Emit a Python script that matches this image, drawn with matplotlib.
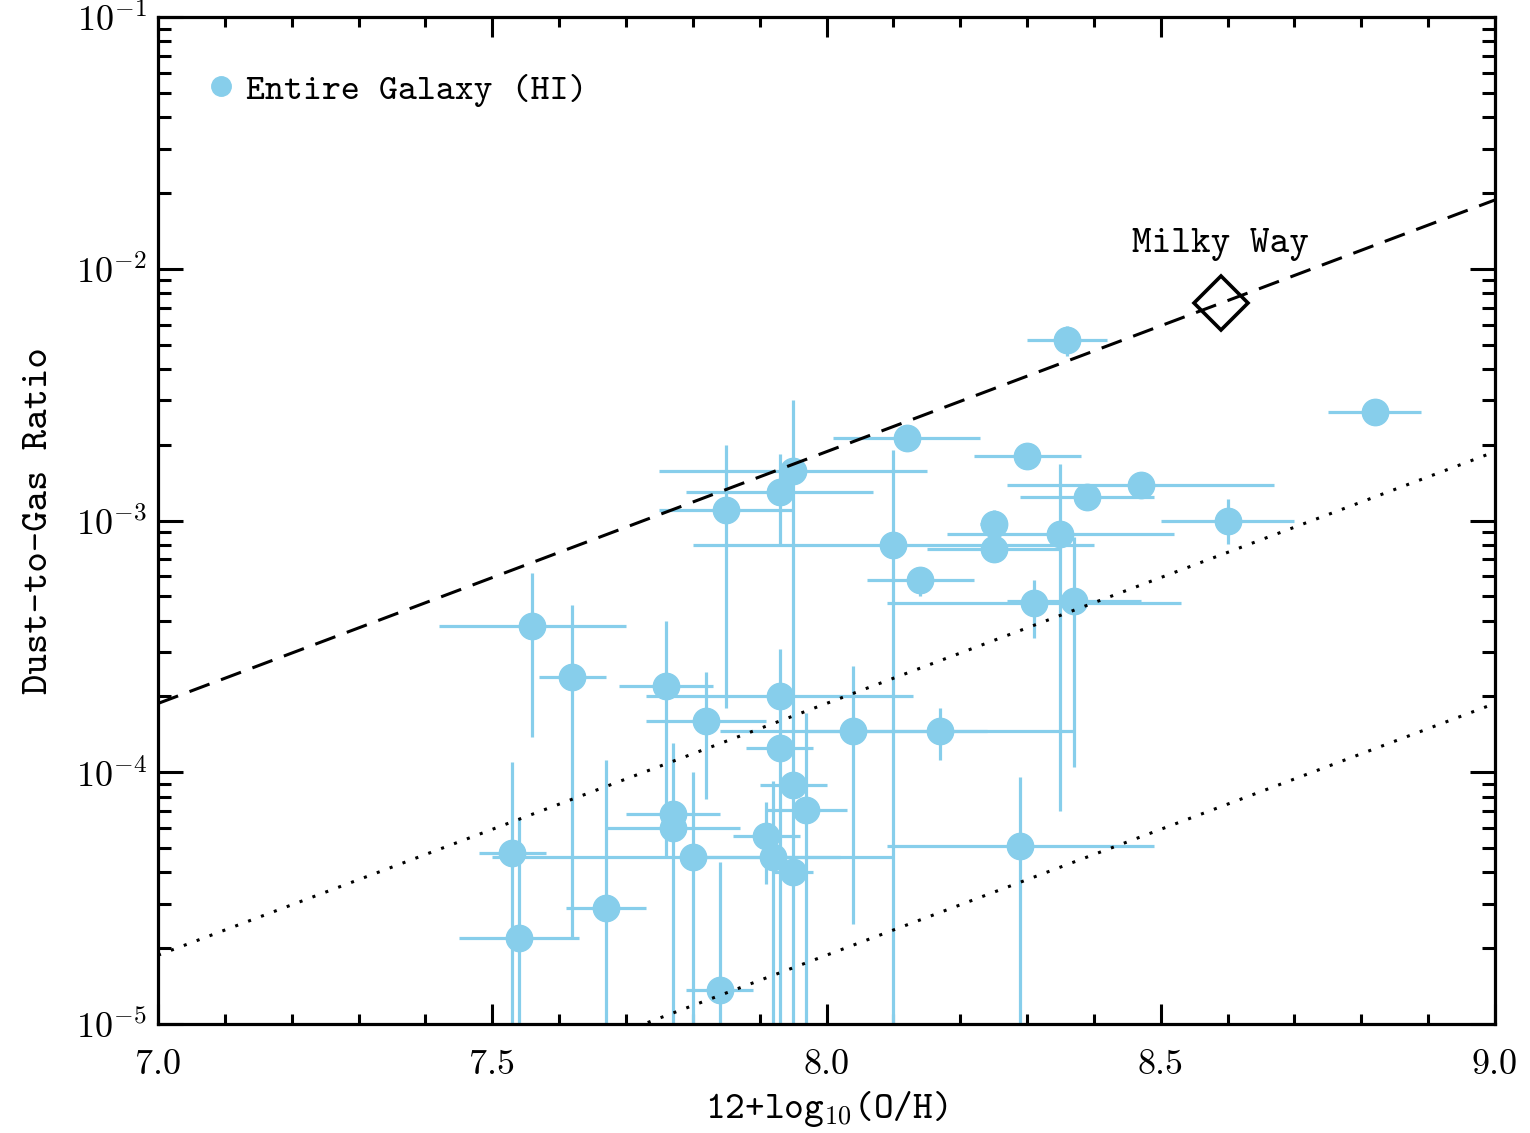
import matplotlib
matplotlib.use("Agg")
import matplotlib.pyplot as plt
import numpy as np
from matplotlib.lines import Line2D
from matplotlib.ticker import LogLocator, MultipleLocator

plt.rcParams['font.family'] = ['cmr10', 'DejaVu Serif']
plt.rcParams['mathtext.fontset'] = 'cm'
plt.rcParams['axes.formatter.use_mathtext'] = True
TT = ['cmtt10', 'DejaVu Sans Mono']

# metallicity 12+log(O/H) and its error
oh = [7.56, 7.62, 7.76, 7.82, 7.85, 7.93, 7.95, 7.93, 7.93, 7.95,
      7.97, 7.91, 7.92, 7.95, 7.80, 7.77, 7.77, 7.53, 7.54, 7.67,
      7.84, 8.04, 8.17, 8.10, 8.12, 8.14, 8.25, 8.25, 8.30, 8.29,
      8.31, 8.35, 8.36, 8.37, 8.39, 8.47, 8.60, 8.82]
oh_err = [0.14, 0.05, 0.07, 0.09, 0.10, 0.14, 0.20, 0.20, 0.05, 0.05,
          0.06, 0.05, 0.10, 0.03, 0.30, 0.07, 0.10, 0.05, 0.09, 0.06,
          0.05, 0.20, 0.20, 0.30, 0.11, 0.08, 0.02, 0.10, 0.08, 0.20,
          0.22, 0.17, 0.06, 0.10, 0.10, 0.20, 0.10, 0.07]

# dust-to-gas ratio with upper / lower bounds (0 = consistent with zero)
dgr = [3.8e-4, 2.4e-4, 2.2e-4, 1.6e-4, 1.1e-3, 1.3e-3, 1.57e-3, 2.0e-4, 1.25e-4, 8.9e-5,
       7.1e-5, 5.6e-5, 4.6e-5, 4.0e-5, 4.6e-5, 6.8e-5, 6.0e-5, 4.8e-5, 2.2e-5, 2.9e-5,
       1.36e-5, 1.46e-4, 1.46e-4, 8.0e-4, 2.13e-3, 5.8e-4, 9.7e-4, 7.7e-4, 1.8e-3, 5.1e-5,
       4.7e-4, 8.8e-4, 5.2e-3, 4.8e-4, 1.24e-3, 1.38e-3, 1.0e-3, 2.7e-3]
dgr_up = [6.2e-4, 4.6e-4, 4.0e-4, 2.5e-4, 2.0e-3, 1.84e-3, 3.0e-3, 3.1e-4, 1.35e-4, 9.5e-5,
          1.72e-4, 7.6e-5, 9.2e-5, 4.3e-5, 1.0e-4, 1.31e-4, 6.4e-5, 1.1e-4, 6.6e-5, 1.12e-4,
          4.4e-5, 2.64e-4, 1.8e-4, 1.9e-3, 2.25e-3, 6.5e-4, 1.1e-3, 8.1e-4, 1.9e-3, 9.6e-5,
          5.8e-4, 1.68e-3, 5.9e-3, 8.6e-4, 1.3e-3, 1.45e-3, 1.22e-3, 2.85e-3]
dgr_low = [1.38e-4, 2.2e-5, 4.6e-5, 7.8e-5, 1.8e-4, 7.9e-4, 0, 0, 1.15e-4, 8.3e-5,
           0, 3.6e-5, 0, 3.7e-5, 0, 0, 5.6e-5, 0, 0, 0,
           0, 2.5e-5, 1.12e-4, 0, 2.0e-3, 5.0e-4, 8.9e-4, 7.3e-4, 1.7e-3, 0,
           3.4e-4, 7.0e-5, 4.5e-3, 1.05e-4, 1.18e-3, 1.31e-3, 8.1e-4, 2.6e-3]

# Milky Way reference point and scaled relations
mw_oh = 8.59
mw_dgr = 7.3e-3
scale_factors = [1.0, 0.1, 0.01]
scale_styles = [(0, (7, 4)), (0, (1, 3.5)), (0, (1, 3.5))]

dgr = np.array(dgr)
yerr = [dgr - np.array(dgr_low), np.array(dgr_up) - dgr]

fig = plt.figure(figsize=(15.3, 11.33), dpi=100)
ax = fig.add_axes([0.1033, 0.0962, 0.8738, 0.8888])
ax.set_yscale('log')

color = '#87CEEB'
ax.errorbar(oh, dgr, xerr=oh_err, yerr=yerr, fmt='o', color=color, ms=19,
            elinewidth=2.3, capsize=0, zorder=2)

xline = np.array([7.0, 9.0])
for f, ls in zip(scale_factors, scale_styles):
    ax.plot(xline, mw_dgr * 10 ** (xline - mw_oh) * f, color='black', lw=2.2,
            linestyle=ls, zorder=3)

ax.plot([mw_oh], [mw_dgr], marker='D', ms=27, mfc='none', mec='black', mew=2.6,
        zorder=4)
ax.text(mw_oh, mw_dgr * 1.47, 'Milky Way', ha='center', va='bottom', fontsize=27,
        family=TT)

ax.set_xlim(7.0, 9.0)
ax.set_ylim(1e-5, 1e-1)
ax.xaxis.set_major_locator(MultipleLocator(0.5))
ax.xaxis.set_minor_locator(MultipleLocator(0.1))
ax.xaxis.set_major_formatter(plt.FuncFormatter(lambda v, p: f'{v:.1f}'))
ax.yaxis.set_major_locator(LogLocator(base=10, numticks=10))
ax.yaxis.set_minor_locator(LogLocator(base=10, subs=np.arange(2, 10), numticks=20))

ax.tick_params(which='both', direction='in', top=True, right=True, width=2.2)
ax.tick_params(axis='x', which='major', length=14.5, pad=18, labelsize=26)
ax.tick_params(axis='x', which='minor', length=7)
ax.tick_params(axis='y', which='major', length=18, pad=8, labelsize=26)
ax.tick_params(axis='y', which='minor', length=9.5)
for s in ax.spines.values():
    s.set_linewidth(2.3)

ax.set_xlabel(r'12+log$_{\mathtt{10}}$(O/H)', fontsize=27, labelpad=6, family=TT)
ax.set_ylabel('Dust-to-Gas Ratio', fontsize=28, labelpad=14, family=TT)

handle = Line2D([], [], marker='o', color=color, ls='none', ms=14)
ax.legend(handles=[handle], labels=['Entire Galaxy (HI)'], loc='upper left',
          frameon=False, prop={'family': TT, 'size': 26}, handlelength=0.6,
          handletextpad=0.4, bbox_to_anchor=(0.028, 0.958), borderaxespad=0)

fig.savefig('out.png', dpi=100)
